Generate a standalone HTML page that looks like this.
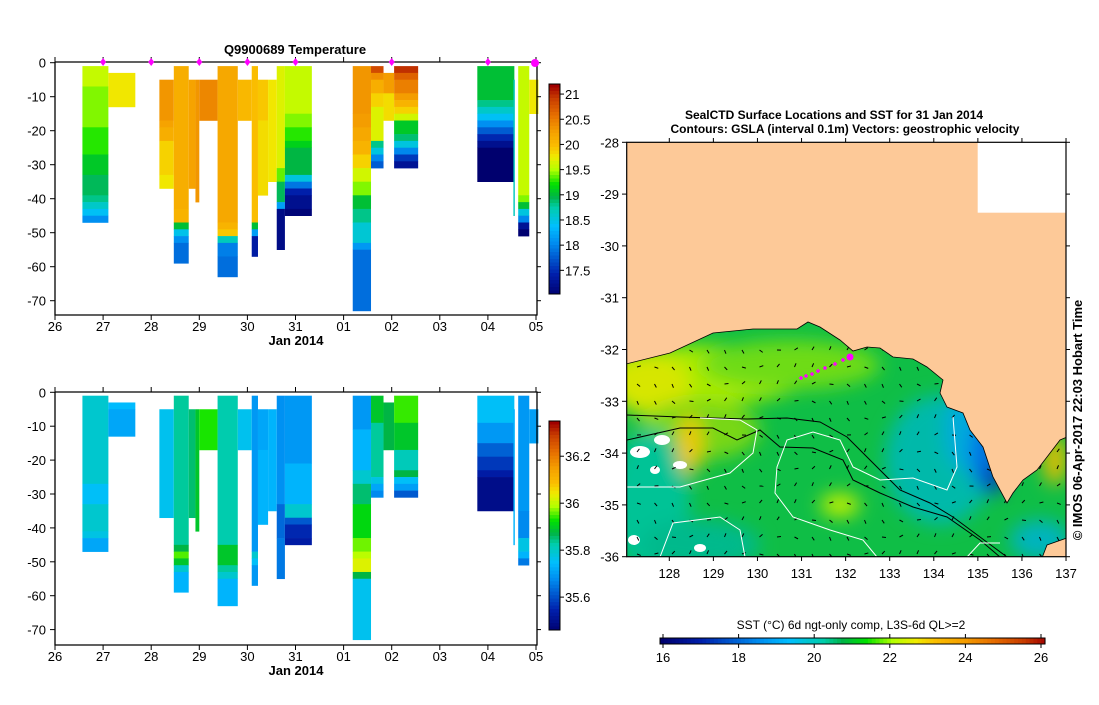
<!DOCTYPE html>
<html><head><meta charset="utf-8"><style>
body{margin:0;background:#fff;width:1099px;height:700px;overflow:hidden;font-family:"Liberation Sans",sans-serif}
svg text{font-family:"Liberation Sans",sans-serif}
</style></head><body>
<svg id="root" width="1099" height="700" viewBox="0 0 1099 700"></svg>
<script>
// ---------- Profile data (days since 26 Jan 2014, depths in m) ----------
const profStart=[0.57,1.11,2.17,2.47,2.78,2.92,3.0,3.38,3.80,4.09,4.22,4.43,4.61,4.78,6.19,6.57,6.83,7.05,8.78,9.53,9.63,9.86];
const profEnd  =[1.11,1.67,2.47,2.78,2.92,3.0,3.38,3.80,4.09,4.22,4.43,4.61,4.78,5.34,6.57,6.83,7.05,7.55,9.55,9.56,9.86,10.05];
const tempEdges=[
 [1,7,19,27,33,39,41,43,45,47],[3,13],[5,17,19,23,33,37],[1,43,47,49,51,53,59],[5,37],[5,41],[5,17],
 [1,47,49,51,53,57,63],[5,17],[1,47,49,51,57],[5,17,39],[5,35],[1,31,35,41,43,55],
 [1,15,19,23,25,33,35,37,39,43,45],[1,15,19,23,27,31,35,39,43,47,53,55,73],[1,3,5,9,13,23,25,27,29,31],
 [3,9,17],[1,3,5,9,11,13,15,17,21,23,25,27,29,31],[1,11,13,15,17,19,21,23,25,35],[5,45],[1,39,41,43,45,47,49,51],[5,15]];
const tempValues=[
 [19.6,19.45,19.3,19.1,18.95,18.85,18.65,18.45,18.1],[19.8],[20.35,20.25,20.15,19.9,19.8],[20.15,20.1,19.05,18.5,18.1,17.9],[20.25],[20.35],[20.45],
 [20.2,20.1,19.95,18.7,18.0,17.9],[20.05],[20.0,19.05,18.2,17.4],[19.95,19.85],[19.8],[19.7,19.4,18.95,18.2,17.2],
 [19.6,19.45,19.3,19.15,19.0,18.55,17.95,17.45,17.25,17.1],[20.35,20.3,20.2,20.1,19.9,19.65,19.45,19.05,18.85,18.6,18.15,17.9],[20.85,20.4,20.15,19.9,19.7,18.85,18.55,18.05,17.8],
 [20.3,19.85],[21.0,20.7,20.5,20.3,20.1,19.9,19.65,19.1,18.9,18.55,18.05,17.6,17.3],[19.05,18.85,18.65,18.45,18.1,17.8,17.5,17.25,17.0],[18.7],[19.6,19.45,19.05,18.55,18.05,17.3,17.05],[19.8]];
const salEdges=[
 [1,27,33,41,43,47],[3,5,13],[5,37],[1,45,47,49,51,53,59],[5,37],[5,41],[5,17],
 [1,45,51,53,55,63],[5,17],[1,47,49,51,57],[5,17,39],[5,35],[1,33,43,55],
 [1,21,33,37,39,43,45],[1,11,23,27,33,43,47,49,53,55,73],[1,9,25,27,29,31],
 [3,17],[1,9,17,23,25,27,29,31],[1,9,15,19,23,25,35],[5,45],[1,35,43,47,49,51],[5,15]];
const salValues=[
 [35.8,35.76,35.8,35.78,35.72],[35.75,35.72],[35.77],[35.84,35.88,35.96,35.9,35.8,35.74],[35.86],[35.9],[35.94],
 [35.83,35.9,35.84,35.8,35.74],[35.77],[35.7,35.8,35.76,35.7],[35.72,35.74],[35.74],[35.69,35.64,35.66],
 [35.7,35.74,35.8,35.62,35.56,35.54],[35.7,35.74,35.8,35.86,35.92,35.97,36.0,36.03,35.88,35.77],[35.9,35.84,35.78,35.72,35.68],
 [35.88],[35.95,35.9,35.82,35.88,35.76,35.71,35.62],[35.76,35.7,35.63,35.58,35.54,35.5],[35.74],[35.7,35.68,35.78,35.74,35.66],[35.71]];
const dayLabels=["26","27","28","29","30","31","01","02","03","04","05"];
const depthTicks=[0,-10,-20,-30,-40,-50,-60,-70];
const markerDays=[1,2,3,4,5,7,9];
const tempTicks=[21,20.5,20,19.5,19,18.5,18,17.5];
const salTicks=[36.2,36,35.8,35.6];
const lonTicks=[128,129,130,131,132,133,134,135,136,137];
const latTicks=[-28,-29,-30,-31,-32,-33,-34,-35,-36];
const sstTicks=[16,18,20,22,24,26];

const NS="http://www.w3.org/2000/svg";
const root=document.getElementById('root');
function el(tag,attrs,parent,txt){const e=document.createElementNS(NS,tag);for(const k in attrs)e.setAttribute(k,attrs[k]);if(txt!==undefined)e.textContent=txt;(parent||root).appendChild(e);return e;}

const stops=[[0,[0,0,110]],[0.1,[0,30,170]],[0.25,[0,140,240]],[0.33,[0,190,255]],[0.42,[0,205,170]],[0.47,[0,180,70]],[0.53,[0,225,0]],[0.6,[180,255,0]],[0.66,[240,235,0]],[0.71,[250,190,0]],[0.78,[245,160,0]],[0.86,[230,110,0]],[0.94,[200,60,0]],[1,[160,0,0]]];
function pal(t){t=Math.max(0,Math.min(1,t));for(let i=1;i<stops.length;i++){if(t<=stops[i][0]){const a=stops[i-1],b=stops[i];const f=(t-a[0])/(b[0]-a[0]);const c=a[1].map((v,j)=>Math.round(v+(b[1][j]-v)*f));return `rgb(${c})`;}}return 'rgb(160,0,0)';}

const DAYW=48.1;
function profilePanel(cfg){
  const g=el('g',{},root);
  
  
  const X=d=>55+d*DAYW, Y=z=>cfg.y0+z*cfg.ys;
  for(let p=0;p<profStart.length;p++){
    const ed=cfg.edges[p], vals=cfg.values[p];
    for(let k=0;k<vals.length;k++){
      const r=el('rect',{x:X(profStart[p]),y:Y(ed[k]),width:Math.max(1.2,X(profEnd[p])-X(profStart[p])),height:Y(ed[k+1])-Y(ed[k])+0.3,fill:pal((vals[k]-cfg.vmin)/(cfg.vmax-cfg.vmin))},g);
      
      
    }
  }
  el('path',{d:`M55 ${cfg.top}V${cfg.bot}H537V${cfg.top}H55`,fill:'none',stroke:'#000','stroke-width':1.3},g);
  depthTicks.forEach(t=>{const y=Y(-t);el('line',{x1:50,x2:55,y1:y,y2:y,stroke:'#000'},g);el('line',{x1:537,x2:541,y1:y,y2:y,stroke:'#000'},g);
    const tx=el('text',{x:46,y:y+5,'text-anchor':'end','font-size':13},g,String(t));});
  dayLabels.forEach((l,i)=>{const x=X(i);el('line',{x1:x,x2:x,y1:cfg.bot,y2:cfg.bot+5,stroke:'#000'},g);el('line',{x1:x,x2:x,y1:cfg.top,y2:cfg.top-5,stroke:'#000'},g);
    const tx=el('text',{x:x,y:cfg.bot+16,'text-anchor':'middle','font-size':13},g,l);});
  const xl=el('text',{x:296,y:cfg.bot+30,'text-anchor':'middle','font-size':13,'font-weight':'bold'},g,'Jan 2014');
  
  const cb=el('g',{},g);
  const n=60;for(let i=0;i<n;i++){const y=cfg.cbTop+(cfg.cbBot-cfg.cbTop)*i/n;el('rect',{x:549,y:y,width:11,height:(cfg.cbBot-cfg.cbTop)/n+0.5,fill:pal(1-i/n)},cb);}
  el('rect',{x:549,y:cfg.cbTop,width:11,height:cfg.cbBot-cfg.cbTop,fill:'none',stroke:'#000'},cb);
  cfg.ticks.forEach(t=>{const y=cfg.cbTop+(cfg.vmax-t)/(cfg.vmax-cfg.vmin)*(cfg.cbBot-cfg.cbTop);el('line',{x1:560,x2:564,y1:y,y2:y,stroke:'#000'},cb);el('text',{x:565,y:y+5,'font-size':13},cb,String(t));});
}
profilePanel({name:'temperature-panel',edges:tempEdges,values:tempValues,vmin:17.03,vmax:21.2,y0:62.7,ys:3.4,top:62,bot:315,cbTop:84,cbBot:294,ticks:tempTicks});
profilePanel({name:'salinity-panel',edges:salEdges,values:salValues,vmin:35.46,vmax:36.35,y0:392.3,ys:3.39,top:392,bot:645,cbTop:421,cbBot:630,ticks:salTicks});
const ttl=el('text',{x:295,y:54,'text-anchor':'middle','font-size':13,'font-weight':'bold'},root,'Q9900689  Temperature');

markerDays.forEach(d=>{const x=55+d*DAYW;const m=el('path',{d:`M${x-3} 62L${x} 58L${x+3} 62L${x} 66Z`,fill:'#f0f'});});
const bm=el('circle',{cx:55+10*DAYW-1,cy:63,r:4,fill:'#f0f'});

// ---------- Map ----------
const mg=el('g',{});
const MX=lon=>669.3+(lon-128)*44.08, MY=lat=>142.3+(-28-lat)*51.8;
const defs=el('defs',{},mg);
el('rect',{x:626.7,y:142.3,width:439.3,height:414.4},el('clipPath',{id:'mc'},defs));
const fb=el('filter',{id:'bl',x:'-50%',y:'-50%',width:'200%',height:'200%'},defs);el('feGaussianBlur',{stdDeviation:9},fb);
const cg=el('g',{'clip-path':'url(#mc)'},mg);
el('rect',{x:626,y:142,width:441,height:416,fill:'rgb(15,190,70)'},cg);
const bg=el('g',{filter:'url(#bl)'},cg);
[[700,375,110,30,'rgb(170,235,0)'],[790,365,90,25,'rgb(110,220,20)'],[650,385,40,30,'rgb(215,230,0)'],[700,430,60,30,'rgb(120,215,20)'],
 [650,500,40,70,'rgb(0,195,150)'],[700,545,60,25,'rgb(0,185,140)'],[940,460,55,65,'rgb(0,185,170)'],[965,430,20,40,'rgb(0,170,220)'],[985,455,14,35,'rgb(0,110,230)'],
 [993,480,10,15,'rgb(0,50,180)'],[1040,540,30,20,'rgb(0,180,190)'],[1055,460,12,25,'rgb(230,190,0)'],[840,505,20,12,'rgb(190,240,0)'],[690,445,12,30,'rgb(240,200,0)']]
 .forEach(b=>el('ellipse',{cx:b[0],cy:b[1],rx:b[2],ry:b[3],fill:b[4]},bg));
[[640,452,10,6],[662,440,8,5],[680,465,7,4],[634,540,6,5],[655,470,5,4],[700,548,6,4]].forEach(w=>el('ellipse',{cx:w[0],cy:w[1],rx:w[2],ry:w[3],fill:'#fff'},cg));
for(let yy=350;yy<556;yy+=17)for(let xx=637;xx<1066;xx+=17.5){const a=Math.sin(xx*0.03+yy*0.05)*1.2;el('line',{x1:xx,y1:yy,x2:xx+4*Math.cos(a),y2:yy+4*Math.sin(a),stroke:'#000','stroke-width':1},cg);}
['M627 415L680 417L747 419L787 418L820 422L847 437L863 453L880 470L900 490L930 503L953 517L980 537L1007 557',
 'M627 440L680 428L713 428L737 440L760 430L780 447L813 448L843 460L853 480L880 493L913 507L947 517L980 540L1000 557']
 .forEach(d=>el('path',{d:d,fill:'none',stroke:'#000','stroke-width':1},cg));
['M627 487L680 487L730 473L753 453L757 430L740 420L700 418',
 'M953 417L957 467L947 490L913 478L880 480L853 467L840 440L813 432L787 440L777 467L775 493L793 517L830 530L863 540L877 557',
 'M660 557L673 523L720 517L740 530L745 557','M967 557L980 543L1000 543']
 .forEach(d=>el('path',{d:d,fill:'none',stroke:'#fff','stroke-width':1},cg));
el('path',{d:'M626 142H1067V437L1060 440L1047 457L1037 470L1023 480L1013 493L1007 503L993 477L983 447L970 430L963 413L947 407L940 393L943 380L927 367L913 359L893 357L880 348L867 347L853 351L840 340L820 327L808 322L797 329L753 329L713 333L670 353L626 364Z',fill:'#fdc998',stroke:'#000','stroke-width':0.8},cg);
el('path',{d:'M1067 538L1047 545L1042 558L1067 558Z',fill:'#fdc998',stroke:'#000','stroke-width':0.8},cg);
el('rect',{x:977.7,y:142.3,width:89,height:70.4,fill:'#fff'},cg);
[[801,378],[806,376],[812,374],[818,371],[825,368],[835,364],[843,360]].forEach(p=>el('path',{d:`M${p[0]-2} ${p[1]}h4M${p[0]} ${p[1]-2}v4`,stroke:'#f0f','stroke-width':1.5},cg));
el('circle',{cx:850,cy:357,r:3.5,fill:'#f0f'},cg);
el('rect',{x:626.7,y:142.3,width:439.3,height:414.4,fill:'none',stroke:'#000','stroke-width':1.2},mg);
lonTicks.forEach(l=>{const x=MX(l);el('line',{x1:x,x2:x,y1:556.7,y2:561,stroke:'#000'},mg);el('line',{x1:x,x2:x,y1:142.3,y2:138,stroke:'#000'},mg);el('text',{x:x,y:578,'text-anchor':'middle','font-size':13},mg,String(l));});
latTicks.forEach(l=>{const y=MY(l);el('line',{x1:622,x2:626.7,y1:y,y2:y,stroke:'#000'},mg);el('line',{x1:1066,x2:1070,y1:y,y2:y,stroke:'#000'},mg);el('text',{x:619,y:y+5,'text-anchor':'end','font-size':13},mg,String(l));});
const mt=el('text',{x:834,y:119,'text-anchor':'middle','font-size':12,'font-weight':'bold'},mg,'SealCTD Surface Locations and SST for 31 Jan 2014');

el('text',{x:845,y:133,'text-anchor':'middle','font-size':12,'font-weight':'bold'},mg,'Contours: GSLA (interval 0.1m) Vectors: geostrophic velocity');
const st=el('text',{x:1082,y:420,'text-anchor':'middle','font-size':13,'font-weight':'bold',transform:'rotate(-90 1082 420)'},mg,'© IMOS 06-Apr-2017 22:03 Hobart Time');

const sc=el('g',{});
for(let i=0;i<100;i++){el('rect',{x:660+385*i/100,y:638,width:4.4,height:6,fill:pal(i/100)},sc);}
el('rect',{x:660,y:638,width:385,height:6,fill:'none',stroke:'#000'},sc);
sstTicks.forEach(t=>{const x=663+(t-16)*37.8;el('line',{x1:x,x2:x,y1:634,y2:638,stroke:'#000'},sc);el('line',{x1:x,x2:x,y1:644,y2:648,stroke:'#000'},sc);el('text',{x:x,y:662,'text-anchor':'middle','font-size':13},sc,String(t));});
el('text',{x:851,y:629,'text-anchor':'middle','font-size':12},sc,'SST (°C) 6d ngt-only comp, L3S-6d QL>=2');
</script>
</body></html>
